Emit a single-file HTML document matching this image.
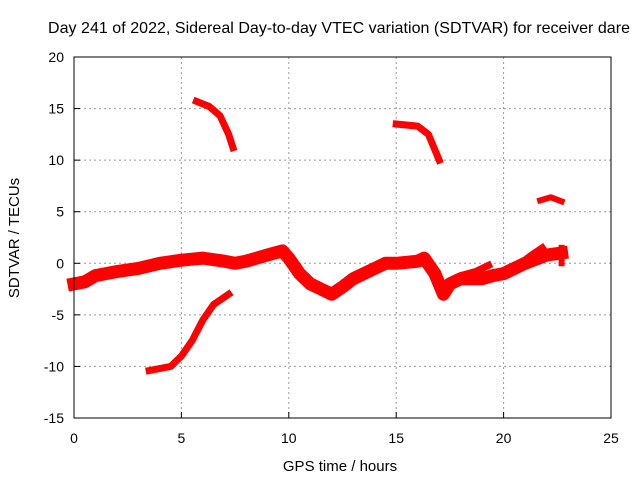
<!DOCTYPE html>
<html><head><meta charset="utf-8"><style>
body{margin:0;background:#fff}
svg{display:block;font-family:"Liberation Sans",sans-serif;font-size:14px}
</style></head><body>
<svg id="c" width="640" height="480">
<text x="339" y="33" text-anchor="middle" font-size="16" textLength="582">Day 241 of 2022, Sidereal Day-to-day VTEC variation (SDTVAR) for receiver dare</text>
<text x="340" y="471" text-anchor="middle" font-size="15">GPS time / hours</text>
<text transform="translate(19,238) rotate(-90)" text-anchor="middle" font-size="15">SDTVAR / TECUs</text>
<g id="grid"></g><g id="marks"></g>
<rect x="74" y="57" width="537" height="361" fill="none" stroke="#000"/>
</svg>
<script>
const xTicks=[0,5,10,15,20,25];
const yTicks=[-15,-10,-5,0,5,10,15,20];
const mainX=[0,0.5,1,2,3,4,5,6,7,7.5,8,9,9.7,10,10.5,11,11.5,12,12.5,13,14,14.5,15,16,16.3,16.8,17.2,17.5,18,19,19.5,20,21,22,22.7];
const mainY=[-2,-1.8,-1.2,-0.8,-0.5,0,0.3,0.5,0.2,0,0.2,0.8,1.2,0.5,-1,-2,-2.5,-3,-2.3,-1.5,-0.5,0,0,0.2,0.5,-1,-3,-2,-1.5,-1.5,-1.2,-1,0,0.8,1.0];
const strand1X=[17.4,18,18.7,19.3];
const strand1Y=[-2,-1.2,-0.8,-0.2];
const strand2X=[20.8,21.3,21.8];
const strand2Y=[0,0.8,1.5];
const arc1X=[3.5,4.5,5,5.5,6,6.5,7.2];
const arc1Y=[-10.4,-10,-9,-7.5,-5.5,-4,-3];
const arc2X=[5.7,6.3,6.8,7.2,7.4];
const arc2Y=[15.7,15.2,14.3,12.5,11.2];
const arc3X=[15,16,16.5,17];
const arc3Y=[13.5,13.3,12.5,10];
const arc4X=[21.7,22.2,22.7];
const arc4Y=[6.1,6.4,6];
const endX=[22.7,22.7];
const endY=[0,1.5];
const X=v=>74+(v/25)*537, Y=v=>418-(v+15)/35*361;
const NS="http://www.w3.org/2000/svg";
const g=document.getElementById('grid'), m=document.getElementById('marks');
function el(t,a,p){const e=document.createElementNS(NS,t);for(const k in a)e.setAttribute(k,a[k]);p.appendChild(e);return e;}
xTicks.forEach(t=>{
 if(t>0&&t<25){const l=el('line',{x1:X(t),x2:X(t),y1:57,y2:418,stroke:'#999','stroke-dasharray':'2,3'},g);
 
 }
 const k=el('line',{x1:X(t),x2:X(t),y1:418,y2:412,stroke:'#000'},g);
 
 
 const tx=el('text',{x:X(t),y:443,'text-anchor':'middle'},g);tx.textContent=t;
 
 
});
yTicks.forEach(t=>{
 if(t>-15&&t<20){const l=el('line',{x1:74,x2:611,y1:Y(t),y2:Y(t),stroke:'#999','stroke-dasharray':'2,3'},g);
 
 }
 const k=el('line',{x1:74,x2:80,y1:Y(t),y2:Y(t),stroke:'#000'},g);
 
 
 const tx=el('text',{x:64,y:Y(t)+5,'text-anchor':'end'},g);tx.textContent=t;
 
 
});
function series(xs,ys,w,name){
 const p=el('polyline',{points:xs.map((x,i)=>X(x)+','+Y(ys[i])).join(' '),fill:'none',stroke:'#f00','stroke-width':w,'stroke-linejoin':'round','stroke-linecap':'square'},m);
 
 
}
series(mainX,mainY,13,'main-band-series');
series(strand1X,strand1Y,7,'strand-series-1');
series(strand2X,strand2Y,7,'strand-series-2');
series(arc1X,arc1Y,7,'arc-series-1');
series(arc2X,arc2Y,7,'arc-series-2');
series(arc3X,arc3Y,7,'arc-series-3');
series(arc4X,arc4Y,6,'arc-series-4');
series(endX,endY,6,'end-series');
</script>
</body></html>
